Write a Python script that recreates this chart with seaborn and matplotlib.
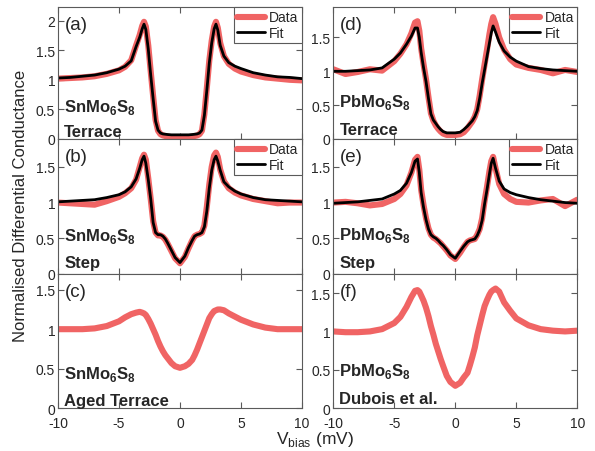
import matplotlib
matplotlib.use('Agg')
import matplotlib.pyplot as plt
from matplotlib.ticker import FormatStrFormatter
import seaborn as sns

# bias voltage (mV), shared by every curve
v_bias = [-10, -9, -8, -7, -6, -5, -4.5, -4, -3.6, -3.3, -3.1, -2.95,
          -2.8, -2.6, -2.4, -2.2, -2.0, -1.8, -1.6, -1.4, -1.2, -1.0, -0.7, -0.4,
          0, 0.4, 0.7, 1.0, 1.2, 1.4, 1.6, 1.8, 2.0, 2.2, 2.4, 2.6, 2.8,
          2.95, 3.1, 3.3, 3.6, 4, 4.5, 5, 6, 7, 8, 9, 10]

# (a) SnMo6S8 terrace
sn_terrace_data = [1.02, 1.03, 1.04, 1.06, 1.10, 1.16, 1.22, 1.33, 1.58, 1.76, 1.91, 1.98,
                   1.90, 1.58, 1.14, 0.72, 0.32, 0.14, 0.08, 0.06, 0.05, 0.04, 0.03, 0.03,
                   0.03, 0.03, 0.03, 0.04, 0.05, 0.06, 0.08, 0.14, 0.42, 0.86, 1.32, 1.66, 1.90,
                   1.98, 1.88, 1.62, 1.40, 1.27, 1.19, 1.14, 1.08, 1.04, 1.02, 1.00, 0.99]
sn_terrace_fit = [1.03, 1.04, 1.06, 1.08, 1.12, 1.18, 1.23, 1.32, 1.56, 1.72, 1.86, 1.94,
                  1.85, 1.52, 1.08, 0.68, 0.30, 0.15, 0.10, 0.085, 0.08, 0.075, 0.07, 0.07,
                  0.07, 0.07, 0.07, 0.075, 0.08, 0.085, 0.10, 0.15, 0.40, 0.82, 1.28, 1.62, 1.86,
                  1.94, 1.84, 1.58, 1.40, 1.29, 1.23, 1.19, 1.12, 1.08, 1.05, 1.04, 1.02]

# (b) SnMo6S8 step
sn_step_data = [1.00, 0.99, 0.98, 0.97, 1.02, 1.08, 1.13, 1.20, 1.32, 1.50, 1.62, 1.67,
                1.60, 1.34, 1.05, 0.74, 0.58, 0.54, 0.54, 0.52, 0.48, 0.42, 0.32, 0.22,
                0.15, 0.24, 0.36, 0.47, 0.53, 0.55, 0.56, 0.58, 0.68, 0.94, 1.25, 1.50, 1.66,
                1.70, 1.64, 1.46, 1.30, 1.20, 1.14, 1.10, 1.05, 1.02, 0.99, 1.00, 1.00]
sn_step_fit = [1.01, 1.02, 1.03, 1.04, 1.07, 1.11, 1.15, 1.22, 1.33, 1.48, 1.60, 1.65,
               1.55, 1.32, 1.05, 0.72, 0.58, 0.55, 0.55, 0.53, 0.49, 0.43, 0.33, 0.23,
               0.16, 0.25, 0.37, 0.47, 0.53, 0.55, 0.56, 0.58, 0.66, 0.88, 1.20, 1.45, 1.60,
               1.65, 1.58, 1.45, 1.29, 1.22, 1.16, 1.12, 1.07, 1.04, 1.03, 1.02, 1.01]

# (c) SnMo6S8 aged terrace
sn_aged_data = [1.00, 1.00, 1.00, 1.01, 1.04, 1.10, 1.15, 1.19, 1.21, 1.22, 1.21, 1.20,
                1.18, 1.13, 1.07, 1.00, 0.93, 0.85, 0.78, 0.72, 0.67, 0.63, 0.57, 0.53,
                0.51, 0.53, 0.56, 0.61, 0.67, 0.74, 0.82, 0.90, 0.98, 1.06, 1.14, 1.19, 1.23,
                1.24, 1.25, 1.25, 1.24, 1.20, 1.16, 1.12, 1.06, 1.02, 1.00, 1.00, 1.00]

# (d) PbMo6S8 terrace
pb_terrace_data = [1.03, 0.96, 0.99, 1.03, 1.01, 1.15, 1.26, 1.40, 1.56, 1.72, 1.74, 1.60,
                   1.34, 1.10, 0.88, 0.62, 0.38, 0.27, 0.20, 0.15, 0.11, 0.08, 0.06, 0.06,
                   0.06, 0.07, 0.10, 0.16, 0.21, 0.26, 0.33, 0.44, 0.64, 0.88, 1.10, 1.32, 1.55,
                   1.70, 1.80, 1.70, 1.50, 1.32, 1.18, 1.10, 1.05, 1.02, 0.97, 1.02, 0.99]
pb_terrace_fit = [1.00, 1.00, 1.01, 1.02, 1.05, 1.18, 1.27, 1.40, 1.52, 1.64, 1.64, 1.50,
                  1.28, 1.05, 0.85, 0.60, 0.37, 0.28, 0.23, 0.18, 0.14, 0.11, 0.09, 0.09,
                  0.09, 0.10, 0.14, 0.19, 0.23, 0.27, 0.33, 0.42, 0.60, 0.82, 1.02, 1.22, 1.42,
                  1.57, 1.67, 1.58, 1.43, 1.30, 1.21, 1.15, 1.07, 1.04, 1.02, 1.01, 1.00]

# (e) PbMo6S8 step
pb_step_data = [1.00, 1.01, 0.99, 0.96, 0.98, 1.05, 1.12, 1.24, 1.42, 1.60, 1.64, 1.46,
                1.18, 0.96, 0.78, 0.64, 0.55, 0.51, 0.49, 0.46, 0.43, 0.39, 0.33, 0.26,
                0.21, 0.30, 0.38, 0.45, 0.47, 0.48, 0.49, 0.55, 0.63, 0.78, 1.02, 1.22, 1.44,
                1.58, 1.64, 1.48, 1.26, 1.12, 1.05, 1.01, 1.00, 1.03, 1.05, 0.95, 1.04]
pb_step_fit = [0.99, 1.00, 1.01, 1.03, 1.05, 1.12, 1.17, 1.27, 1.42, 1.58, 1.61, 1.42,
               1.14, 0.93, 0.76, 0.63, 0.55, 0.52, 0.50, 0.47, 0.43, 0.40, 0.34, 0.27,
               0.22, 0.32, 0.39, 0.45, 0.47, 0.48, 0.49, 0.54, 0.62, 0.75, 0.98, 1.18, 1.40,
               1.55, 1.62, 1.48, 1.30, 1.19, 1.14, 1.11, 1.07, 1.04, 1.02, 1.00, 0.99]

# (f) PbMo6S8, Dubois et al.
pb_dubois_data = [1.00, 0.99, 0.99, 1.00, 1.03, 1.11, 1.19, 1.32, 1.45, 1.53, 1.54, 1.52,
                  1.47, 1.40, 1.31, 1.20, 1.07, 0.96, 0.84, 0.74, 0.64, 0.55, 0.42, 0.34,
                  0.29, 0.33, 0.40, 0.46, 0.56, 0.67, 0.79, 0.95, 1.08, 1.21, 1.33, 1.41, 1.48,
                  1.52, 1.54, 1.56, 1.52, 1.38, 1.27, 1.17, 1.08, 1.03, 1.01, 1.00, 1.01]

panel_tags = ['(a)', '(b)', '(c)', '(d)', '(e)', '(f)']
compounds = [r'SnMo$_\mathbf{6}$S$_\mathbf{8}$'] * 3 + [r'PbMo$_\mathbf{6}$S$_\mathbf{8}$'] * 3
captions = ['Terrace', 'Step', 'Aged Terrace', 'Terrace', 'Step', 'Dubois et al.']
y_tops = [2.23, 1.89, 1.70, 1.95, 1.89, 1.75]
y_ticks = [[0, 0.5, 1, 1.5, 2], [0, 0.5, 1, 1.5], [0, 0.5, 1, 1.5],
           [0, 0.5, 1, 1.5], [0, 0.5, 1, 1.5], [0, 0.5, 1, 1.5]]
data_curves = [sn_terrace_data, sn_step_data, sn_aged_data,
               pb_terrace_data, pb_step_data, pb_dubois_data]
fit_curves = [sn_terrace_fit, sn_step_fit, None, pb_terrace_fit, pb_step_fit, None]

# where the two text lines sit (axes fraction, baselines)
compound_y = [0.21, 0.25, 0.225, 0.25, 0.26, 0.245]
caption_y = [0.025, 0.05, 0.02, 0.038, 0.055, 0.035]

sns.set_style('ticks')
plt.rcParams['font.family'] = ['Liberation Sans', 'DejaVu Sans']
plt.rcParams['mathtext.fontset'] = 'custom'
plt.rcParams['mathtext.rm'] = 'Liberation Sans'
plt.rcParams['mathtext.bf'] = 'Liberation Sans:bold'
plt.rcParams['axes.unicode_minus'] = False

RED = '#f06464'
INK = '#262626'
EDGE = '#5a5a5a'

fig = plt.figure(figsize=(5.95, 4.52), dpi=100)
lefts = [0.0975, 0.5602]
bottoms = [0.6903, 0.3916, 0.0951]
heights = [0.292, 0.2987, 0.2965]

for i in range(6):
    col, row = divmod(i, 3)
    ax = fig.add_axes([lefts[col], bottoms[row], 0.41, heights[row]])

    has_fit = fit_curves[i] is not None
    sns.lineplot(x=v_bias, y=data_curves[i], ax=ax, color=RED, lw=4.4,
                 label='Data' if has_fit else None, solid_joinstyle='round')
    if has_fit:
        sns.lineplot(x=v_bias, y=fit_curves[i], ax=ax, color='black', lw=2.0,
                     label='Fit')
        leg = ax.legend(loc='upper right', borderaxespad=0, fancybox=False,
                        framealpha=1, edgecolor=EDGE, fontsize=10,
                        handlelength=2.0, handletextpad=0.3, labelspacing=0.1,
                        borderpad=0.25)
        leg.get_frame().set_linewidth(0.8)

    ax.set_xlim(-10, 10)
    ax.set_ylim(0, y_tops[i])
    ax.set_xticks([-10, -5, 0, 5, 10])
    ax.set_yticks(y_ticks[i])
    ax.yaxis.set_major_formatter(FormatStrFormatter('%g'))
    ax.tick_params(direction='in', top=True, right=True, length=4, width=0.8,
                   labelsize=10, colors=EDGE, labelcolor=INK, pad=2)
    ax.tick_params(axis='x', pad=6)
    if row < 2:
        ax.set_xticklabels([])
    for s in ax.spines.values():
        s.set_visible(True)
        s.set_color(EDGE)
        s.set_linewidth(0.8)
    ax.set_xlabel('')
    ax.set_ylabel('')

    ax.text(0.028, 0.93, panel_tags[i], transform=ax.transAxes, fontsize=13.5,
            va='top', ha='left', color=INK)
    ax.text(0.025, compound_y[i], compounds[i], transform=ax.transAxes,
            fontsize=12, fontweight='bold', va='baseline', ha='left', color=INK)
    ax.text(0.025, caption_y[i], captions[i], transform=ax.transAxes,
            fontsize=12, fontweight='bold', va='baseline', ha='left', color=INK)

fig.text(0.035, 0.545, 'Normalised Differential Conductance', rotation=90,
         fontsize=12, ha='center', va='center', color=INK)
fig.text(0.53, 0.018, r'V$_{\mathrm{bias}}$ (mV)', fontsize=12.5,
         ha='center', va='baseline', color=INK)

fig.savefig('out.png', dpi=100)
